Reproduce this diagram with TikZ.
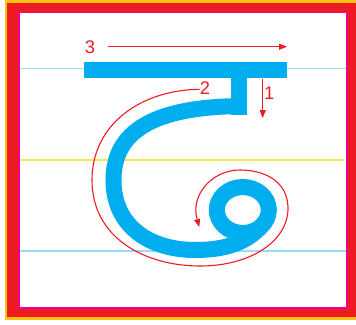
\documentclass[tikz,border=0pt]{standalone}
\usepackage{fontspec}
\newfontfamily\labelfont{Liberation Sans}
\usetikzlibrary{arrows.meta}
\definecolor{inkblue}{HTML}{00AEEF}
\definecolor{guidered}{HTML}{ED1C24}
\definecolor{frameyellow}{HTML}{FDC20F}
\definecolor{framemagenta}{HTML}{EC008C}
\definecolor{lineblue}{HTML}{9ADBF5}
\definecolor{lineyellow}{HTML}{F3E84A}
\tikzset{
  guidearrow/.style={draw=guidered, line width=1.1pt, -{Triangle[length=8pt,width=6pt]}},
  steplabel/.style={text=guidered, font=\labelfont\fontsize{18.3}{18.3}\selectfont, inner sep=0pt},
  ink/.style={draw=inkblue, line width=16pt},
  ruleline/.style={line width=1.4pt}
}
\begin{document}
\begin{tikzpicture}[x=1pt,y=-1pt]
\useasboundingbox (0,0) rectangle (356,324);
\fill[white] (0,0) rectangle (356,324);
% frame
\fill[frameyellow] (5,0) rectangle (356,319.5);
\fill[guidered] (7.3,3.3) rectangle (356,317.3);
\fill[framemagenta] (18.3,11.7) rectangle (347.7,308.7);
\fill[white] (19.7,13) rectangle (345.7,306.7);
% ruled lines
\draw[ruleline, lineblue] (19.7,68.3) -- (345.7,68.3);
\draw[ruleline, lineyellow] (21,160) -- (344,160);
\draw[ruleline, lineblue] (19.7,251) -- (345.7,251);
% letter
\fill[inkblue] (84,62.3) rectangle (286.7,77.7);
\fill[inkblue] (231,77) rectangle (246.7,115);
\draw[ink, line cap=butt] (246.7,106) .. controls (165,106) and (113.5,125) .. (113.5,180)
  .. controls (113.5,228) and (152,250) .. (195,250)
  .. controls (225,250) and (249,243) .. (265.3,221.5);
\draw[ink] (242.8,210) ellipse [x radius=26, y radius=23];
% guide arrows and labels
\node[steplabel] (n3) at (89.9,47.4) {3};
\coordinate (a3s) at (108,46.7);
\coordinate (a3e) at (287,46.7);
\draw[guidearrow] (a3s) -- (a3e);
\node[steplabel] (n1) at (269.3,92.8) {1};
\coordinate (a1s) at (262.7,79.3);
\coordinate (a1e) at (262.7,118);
\draw[guidearrow] (a1s) -- (a1e);
\node[steplabel] (n2) at (205,87.8) {2};
\coordinate (a2e) at (199.3,227);
\draw[guidearrow] ([yshift=-1.5pt]n2.west) .. controls (140,90) and (92,125) .. (92,180)
  .. controls (92,238) and (145,266) .. (200,266)
  .. controls (252,266) and (289,240) .. (288,207)
  .. controls (287,180) and (263,170) .. (240,170)
  .. controls (212,170) and (190,195) .. (a2e);
\end{tikzpicture}
\end{document}
